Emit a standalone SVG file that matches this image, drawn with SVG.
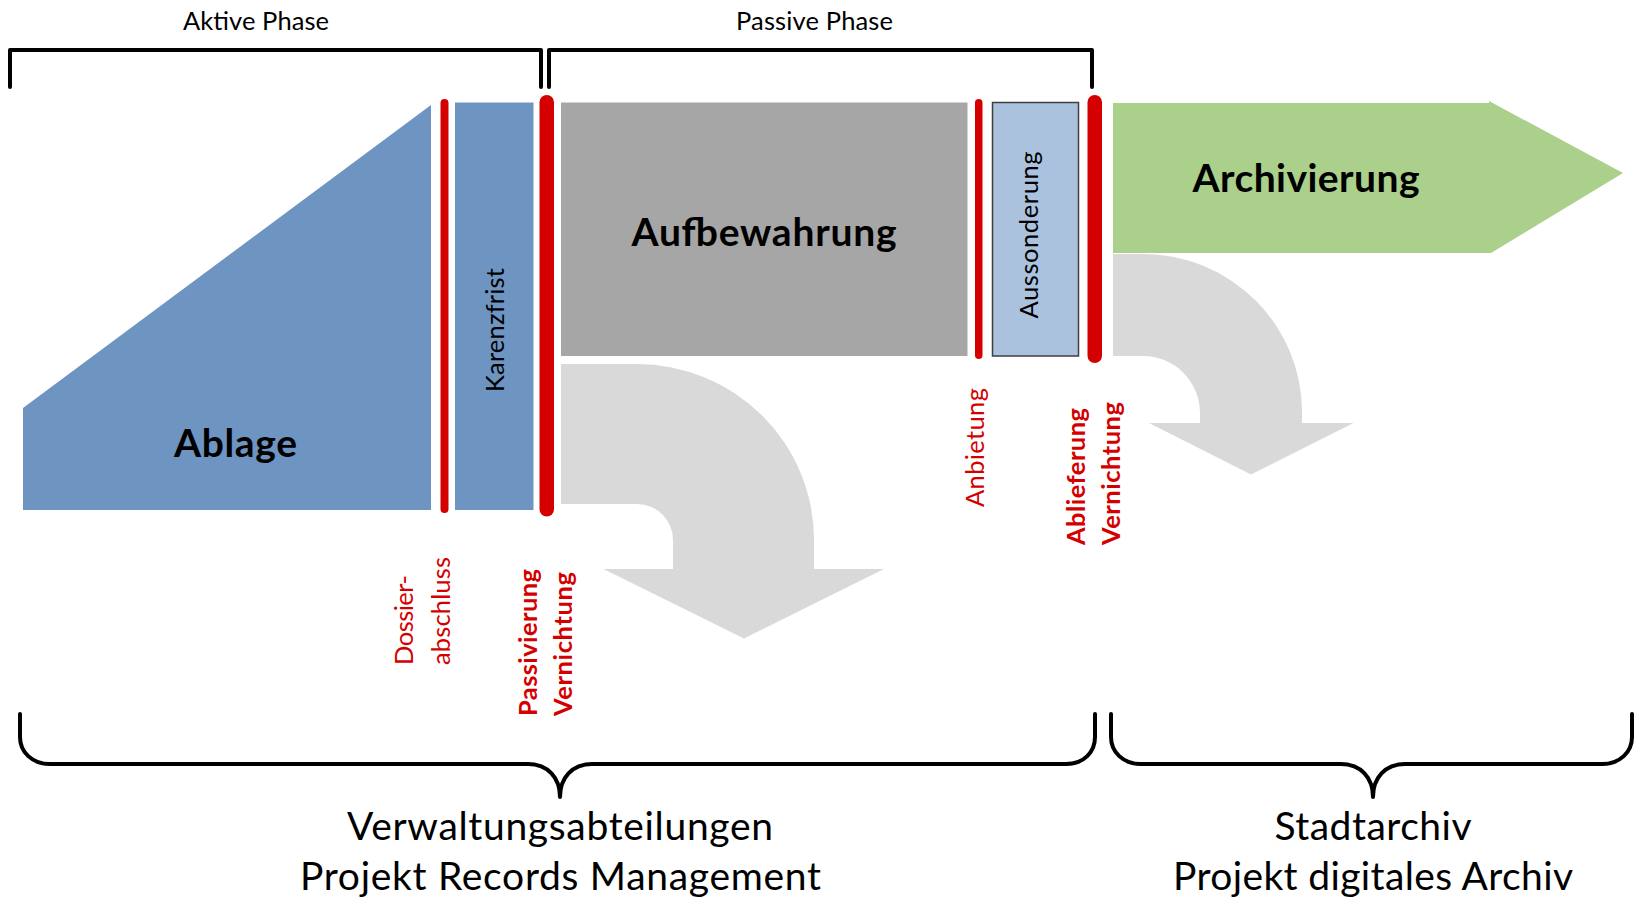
<svg xmlns="http://www.w3.org/2000/svg" width="1640" height="898" viewBox="0 0 1640 898">
  <style>
    text { font-family: Lato, "Liberation Sans", sans-serif; }
    .lbl { font-size: 25.5px; fill: #000; }
    .big { font-size: 39px; font-weight: 700; fill: #000; }
    .foot { font-size: 39px; fill: #000; }
    .red { font-size: 25.5px; fill: #d40000; }
    .redb { font-size: 25.5px; font-weight: 700; fill: #d40000; }
    .bar { fill: #d40000; }
    .blue { fill: #6e94c2; }
    .grey { fill: #a6a6a6; }
    .flow { fill: #d9d9d9; }
    .brace { fill: none; stroke: #000; stroke-width: 4; stroke-linecap: round; stroke-linejoin: round; }
  </style>

  <!-- phase brackets at the top -->
  <g id="phases">
    <path class="brace" d="M10 87 L10 50 L541 50 L541 87"/>
    <path class="brace" d="M549 87 L549 50 L1092 50 L1092 87"/>
    <text class="lbl" x="256" y="30" text-anchor="middle" textLength="146">Aktive Phase</text>
    <text class="lbl" x="814.5" y="30" text-anchor="middle" textLength="157">Passive Phase</text>
  </g>

  <!-- Ablage wedge -->
  <g id="ablage">
    <polygon class="blue" points="23,408 431,105 431,510 23,510"/>
    <text class="big" x="235.5" y="457" text-anchor="middle" textLength="123">Ablage</text>
  </g>

  <g id="karenzfrist">
    <rect class="blue" x="455" y="102.5" width="78.5" height="407.5"/>
    <text class="lbl" transform="translate(504 392) rotate(-90)" textLength="124">Karenzfrist</text>
  </g>

  <g id="aufbewahrung">
    <rect class="grey" x="561" y="102.5" width="406.5" height="253.5"/>
    <text class="big" x="764" y="246" text-anchor="middle" textLength="265">Aufbewahrung</text>
  </g>

  <g id="aussonderung">
    <rect x="992.5" y="102.5" width="86" height="253.5" fill="#abc2df" stroke="#3f3f3f" stroke-width="1.5"/>
    <text class="lbl" transform="translate(1038 318.5) rotate(-90)" textLength="167">Aussonderung</text>
  </g>

  <g id="archivierung">
    <polygon fill="#aad08b" points="1113,103 1489,103 1489,101 1623,173 1491,253 1113,253"/>
    <text class="big" x="1306" y="192" text-anchor="middle" textLength="227">Archivierung</text>
  </g>

  <!-- milestone bars with their labels -->
  <g id="dossierabschluss">
    <rect class="bar" x="440.5" y="99" width="8" height="414" rx="4"/>
    <text class="red" transform="translate(413 665) rotate(-90)" textLength="90">Dossier-</text>
    <text class="red" transform="translate(450 665) rotate(-90)" textLength="108">abschluss</text>
  </g>

  <g id="passivierung">
    <rect class="bar" x="539.5" y="95" width="14.5" height="421.5" rx="7.25"/>
    <text class="redb" transform="translate(536.5 716) rotate(-90)" textLength="147">Passivierung</text>
    <text class="redb" transform="translate(571.5 716) rotate(-90)" textLength="144">Vernichtung</text>
  </g>

  <g id="anbietung">
    <rect class="bar" x="975" y="99" width="7.5" height="260" rx="3.75"/>
    <text class="red" transform="translate(983.5 507) rotate(-90)" textLength="119">Anbietung</text>
  </g>

  <g id="ablieferung">
    <rect class="bar" x="1087.5" y="95" width="14.5" height="268" rx="7.25"/>
    <text class="redb" transform="translate(1085 545) rotate(-90)" textLength="137">Ablieferung</text>
    <text class="redb" transform="translate(1120 545) rotate(-90)" textLength="143">Vernichtung</text>
  </g>

  <!-- curved flow arrows -->
  <g id="connectors">
    <path class="flow" d="M561 364 L637 364 A177 176 0 0 1 814 540 L814 569 L884 569 L744 638.5 L603.5 569 L673 569 L673 540 A36 36 0 0 0 637 504 L561 504 Z"/>
    <path class="flow" d="M1113 254 L1143 254 A159 158 0 0 1 1302 412 L1302 423 L1353.5 423 L1251 474.5 L1149 423 L1200 423 L1200 413 A57 57 0 0 0 1143 356 L1113 356 Z"/>
  </g>

  <!-- responsibility braces at the bottom -->
  <g id="verwaltung">
    <path class="brace" d="M20 714 L20 737 C20 752 32 764 50 764 L528 764 C548 764 560 778 560 797 C560 778 572 764 592 764 L1066 764 C1084 764 1095 752 1095 737 L1095 714"/>
    <text class="foot" x="560" y="840" text-anchor="middle" textLength="426">Verwaltungsabteilungen</text>
    <text class="foot" x="560.5" y="890" text-anchor="middle" textLength="521">Projekt Records Management</text>
  </g>

  <g id="stadtarchiv">
    <path class="brace" d="M1111 714 L1111 737 C1111 752 1123 764 1141 764 L1341 764 C1361 764 1373 778 1373 797 C1373 778 1385 764 1405 764 L1602 764 C1620 764 1632 752 1632 737 L1632 714"/>
    <text class="foot" x="1373" y="840" text-anchor="middle" textLength="197">Stadtarchiv</text>
    <text class="foot" x="1373" y="890" text-anchor="middle" textLength="400">Projekt digitales Archiv</text>
  </g>
</svg>
